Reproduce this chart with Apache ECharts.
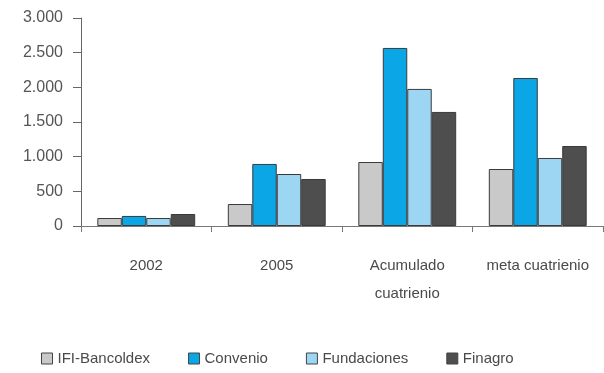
<!DOCTYPE html>
<html><head><meta charset="utf-8">
<script src="https://cdn.jsdelivr.net/npm/echarts@6/dist/echarts.min.js"></script>
<style>html,body{margin:0;padding:0;background:#fff}#c{width:604px;height:373px}</style>
</head><body><div id="c"></div>
<script>
var categories = ['2002', '2005', 'Acumulado\ncuatrienio', 'meta cuatrienio'];
var seriesNames = ['IFI-Bancoldex', 'Convenio', 'Fundaciones', 'Finagro'];
var ifi = [115, 317, 923, 822];
var convenio = [145, 895, 2568, 2135];
var fundaciones = [115, 750, 1977, 981];
var finagro = [173, 678, 1645, 1154];
var yTicks = [0, 500, 1000, 1500, 2000, 2500, 3000];

var colors = ['#c9c9c9', '#0aa6e6', '#9cd6f3', '#4e4e4e'];
var values = [ifi, convenio, fundaciones, finagro];
var font = 'Liberation Sans, Arial, sans-serif';

var chart = echarts.init(document.getElementById('c'), null, {renderer: 'canvas'});
chart.setOption({
  animation: false,
  backgroundColor: '#fff',
  color: colors,
  grid: {left: 81, right: 1, top: 18, bottom: 147},
  legend: {
    data: seriesNames, left: 36, top: 346, itemWidth: 11, itemHeight: 11, itemGap: 38,
    icon: 'rect',
    itemStyle: {borderColor: '#444', borderWidth: 1},
    textStyle: {fontFamily: font, fontSize: 15, color: '#4a4a4a'}
  },
  xAxis: {
    type: 'category', data: categories,
    axisLine: {lineStyle: {color: '#777', width: 1}},
    axisTick: {show: true, length: 6, lineStyle: {color: '#777'}},
    axisLabel: {margin: 26, fontFamily: font, fontSize: 15, color: '#4a4a4a', lineHeight: 28, interval: 0}
  },
  yAxis: {
    type: 'value', min: 0, max: 3000, interval: 500,
    splitLine: {show: false},
    axisLine: {show: true, lineStyle: {color: '#666'}},
    axisTick: {show: true, length: 8, lineStyle: {color: '#666'}},
    axisLabel: {margin: 18, fontFamily: font, fontSize: 16, color: '#555',
      formatter: function (v) { return yTicks.indexOf(v) >= 0 ? String(v).replace(/\B(?=(\d{3})+(?!\d))/g, '.') : ''; }}
  },
  series: seriesNames.map(function (n, i) {
    return {
      name: n, type: 'bar', data: values[i], barGap: '0%', barCategoryGap: '25%',
      itemStyle: {color: colors[i], borderColor: '#3a3a3a', borderWidth: 1}
    };
  })
});
</script></body></html>
